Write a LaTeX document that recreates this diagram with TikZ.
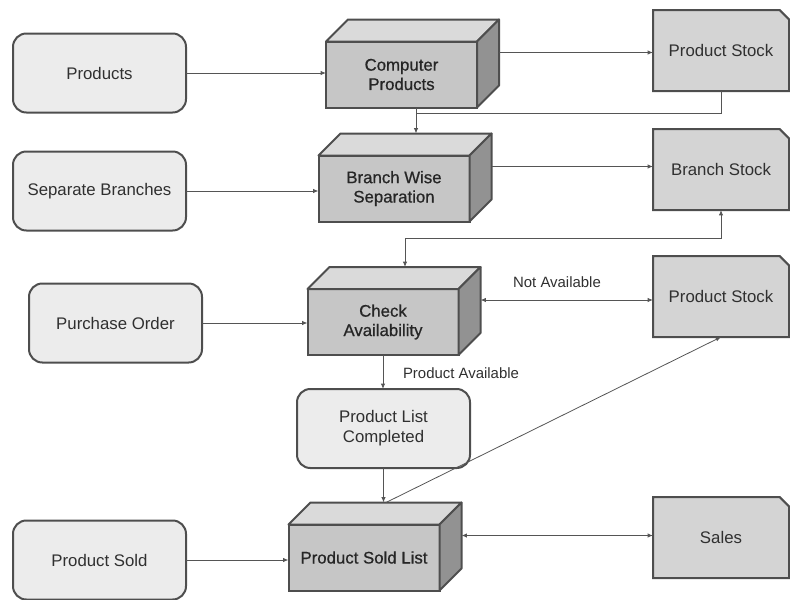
\documentclass[tikz,border=0pt]{standalone}
\usepackage{fontspec}
\setmainfont{Liberation Sans}
\newfontfamily\cubefont[FakeBold=0.7]{Liberation Sans}
\usetikzlibrary{shapes.misc,arrows.meta}

\definecolor{boxline}{RGB}{78,78,78}
\definecolor{lightfill}{RGB}{236,236,236}
\definecolor{cubefront}{RGB}{198,198,198}
\definecolor{cubetop}{RGB}{218,218,218}
\definecolor{cubeside}{RGB}{146,146,146}
\definecolor{stockfill}{RGB}{212,212,212}
\definecolor{linegray}{RGB}{85,85,85}
\definecolor{textgray}{RGB}{48,48,48}

\tikzset{every picture/.style={line width=0.75pt}}
\tikzset{
  roundbox/.style={draw=boxline, line width=1.5pt, fill=lightfill, rounded corners=10pt,
    minimum width=129.75pt, minimum height=59.25pt, inner sep=0pt, outer sep=0pt,
    align=center, text=textgray, font=\fontsize{12.6}{15}\selectfont},
  cubebox/.style={draw=boxline, line width=1.5pt, fill=cubefront,
    minimum width=113.25pt, minimum height=49.5pt, inner sep=0pt, outer sep=0pt,
    align=center, text=black!85, font=\cubefont\fontsize{12.6}{14.5}\selectfont},
  cubelid/.style={draw=boxline, line width=1.5pt, fill=cubetop, line join=round},
  cubewall/.style={draw=boxline, line width=1.5pt, fill=cubeside, line join=round},
  stockbox/.style={chamfered rectangle, chamfered rectangle corners=north east,
    chamfered rectangle xsep=3.5pt, draw=boxline, line width=1.5pt, fill=stockfill,
    minimum width=102pt, minimum height=60.75pt, inner sep=0pt, outer sep=0pt,
    align=center, text=textgray, font=\fontsize{12.6}{15}\selectfont},
  flow/.style={draw=linegray, line width=0.6pt, -{Latex[length=4pt,width=3.2pt]}},
  twoway/.style={draw=linegray, line width=0.6pt, {Latex[length=4pt,width=3.2pt]}-{Latex[length=4pt,width=3.2pt]}},
  plain/.style={draw=linegray, line width=0.6pt},
  flowlabel/.style={text=textgray, font=\fontsize{11.2}{13}\selectfont}
}

\begin{document}
\begin{tikzpicture}[x=0.75pt,y=0.75pt,yscale=-1,xscale=1]
	\useasboundingbox (0,0) rectangle (790,600);

	%Shape: Rounded Rect (inputs)
	\node[roundbox] (products) at (99.5,73) {Products};
	\node[roundbox] (branches) at (99.5,191) {Separate Branches};
	\node[roundbox] (order) at (115.5,323) {Purchase Order};
	\node[roundbox] (sold) at (99.5,560) {Product Sold};
	\node[roundbox] (listdone) at (383.5,428.5) {Product List\\Completed};

	%Shape: Cube
	\node[cubebox] (computer) at (401.5,74.5) {Computer\\Products};
	\draw[cubelid] (computer.north west) -- ++(22,-22) -- ([shift={(22,-22)}]computer.north east) -- (computer.north east) -- cycle;
	\draw[cubewall] (computer.north east) -- ++(22,-22) -- ([shift={(22,-22)}]computer.south east) -- (computer.south east) -- cycle;
	%Shape: Cube
	\node[cubebox] (branchsep) at (394,188.5) {Branch Wise\\Separation};
	\draw[cubelid] (branchsep.north west) -- ++(22,-22) -- ([shift={(22,-22)}]branchsep.north east) -- (branchsep.north east) -- cycle;
	\draw[cubewall] (branchsep.north east) -- ++(22,-22) -- ([shift={(22,-22)}]branchsep.south east) -- (branchsep.south east) -- cycle;
	%Shape: Cube
	\node[cubebox] (check) at (383,322) {Check\\Availability};
	\draw[cubelid] (check.north west) -- ++(22,-22) -- ([shift={(22,-22)}]check.north east) -- (check.north east) -- cycle;
	\draw[cubewall] (check.north east) -- ++(22,-22) -- ([shift={(22,-22)}]check.south east) -- (check.south east) -- cycle;
	%Shape: Cube
	\node[cubebox] (soldlist) at (364,557.5) {Product Sold List};
	\draw[cubelid] (soldlist.north west) -- ++(22,-22) -- ([shift={(22,-22)}]soldlist.north east) -- (soldlist.north east) -- cycle;
	\draw[cubewall] (soldlist.north east) -- ++(22,-22) -- ([shift={(22,-22)}]soldlist.south east) -- (soldlist.south east) -- cycle;

	%Shape: Snip Rect (stores)
	\node[stockbox] (stock) at (721,50.5) {Product Stock};
	\node[stockbox] (branchstock) at (721,169.5) {Branch Stock};
	\node[stockbox] (stocktwo) at (721,296.5) {Product Stock};
	\node[stockbox] (sales) at (721,537.5) {Sales};

	% back top edges and side faces of the cubes
	\coordinate (computerside) at ([shift={(22,-22)}]computer.east);
	\coordinate (branchseptop) at ([shift={(22,-22)}]branchsep.north);
	\coordinate (branchsepside) at ([shift={(22,-22)}]branchsep.east);
	\coordinate (checktop) at ([shift={(22,-22)}]check.north);
	\coordinate (checkside) at ([shift={(22,-22)}]check.east);
	\coordinate (soldlisttop) at ([shift={(22,-22)}]soldlist.north);
	\coordinate (soldlistside) at ([shift={(22,-22)}]soldlist.east);
	\coordinate (stockjoin) at (branchseptop |- 0,113);
	\coordinate (branchjoin) at (checktop |- 0,238);

	%Straight Lines
	\draw[flow] (products.east) -- (products.east -| computer.west);
	\draw[flow] (computerside) -- (computerside -| stock.west);
	\draw[flow] (computer.south -| branchseptop) -- (branchseptop);
	\draw[plain] (stock.south) |- (stockjoin);
	\draw[flow] (branches.east) -- (branches.east -| branchsep.west);
	\draw[flow] (branchsepside) -- (branchsepside -| branchstock.west);
	\draw[twoway] (branchstock.south) |- (branchjoin) -- (checktop);
	\draw[flow] (order.east) -- (order.east -| check.west);
	\draw[twoway] (checkside) -- (checkside -| stocktwo.west);
	\draw[flow] (check.south) -- (check.south |- listdone.north);
	\draw[flow] (listdone.south) -- (listdone.south |- soldlisttop);
	\draw[flow] (soldlisttop) -- (stocktwo.south);
	\draw[flow] (sold.east) -- (sold.east -| soldlist.west);
	\draw[twoway] (soldlistside) -- (soldlistside -| sales.west);

	% Text Node
	\node[flowlabel] (notavail) at (557,282) {Not Available};
	% Text Node
	\node[flowlabel] (avail) at (461,373) {Product Available};

\end{tikzpicture}
\end{document}
